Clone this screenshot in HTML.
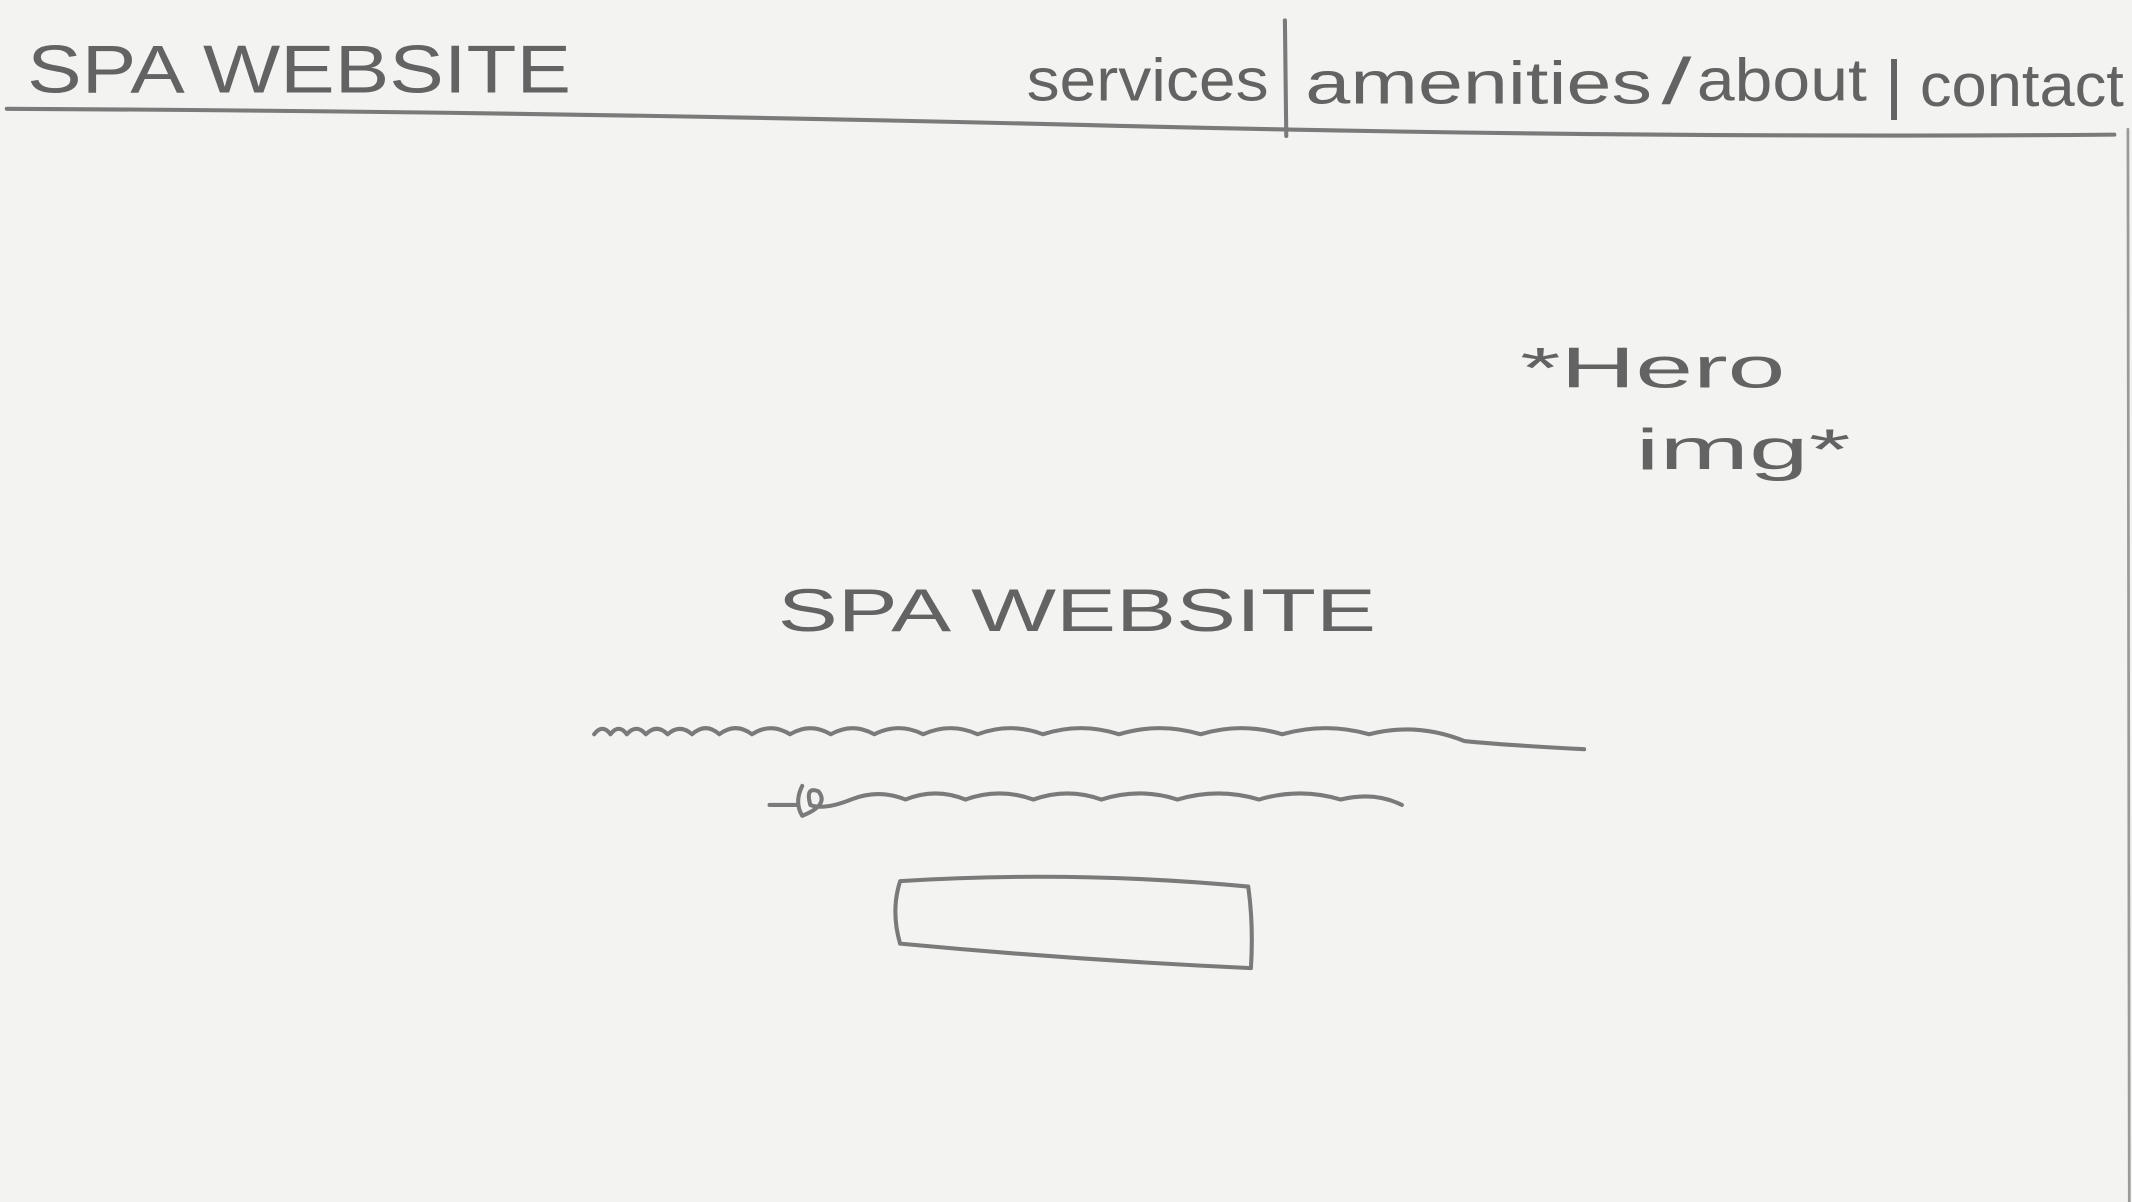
<!DOCTYPE html>
<html><head><meta charset="utf-8"><style>
html,body{margin:0;padding:0;background:#f3f3f1;}
svg{display:block;}
text{font-family:"Liberation Sans",sans-serif;fill:#636363;font-weight:normal;}
</style></head><body>
<svg width="2132" height="1202" viewBox="0 0 1568 884" preserveAspectRatio="none" xmlns="http://www.w3.org/2000/svg">
<rect x="0" y="0" width="1568" height="884" fill="#f3f3f1"/>
<g fill="none" stroke="#7a7a7a" stroke-width="3" stroke-linecap="round" stroke-linejoin="round">
<path d="M5 80 Q400 82 800 92 T1555 99"/>
<path d="M945 15 L946 100"/>
<path d="M1565 95 L1566 884" stroke="#9a9a9a" stroke-width="2"/>
<path d="M437 540 q6 -8 12 0 q6 -8 12 0 q7 -8 14 0 q8 -8 16 0 q9 -8 18 0 q10 -9 20 0 q12 -9 24 0 q14 -9 28 0 q15 -9 30 0 q16 -9 32 0 q18 -9 36 0 q20 -9 40 0 q24 -9 48 0 q28 -9 56 0 q30 -9 60 0 q30 -9 60 0 q32 -9 64 0 q35 -9 70 5 q30 3 88 6"/>
<path d="M566 592 l20 0 M590 578 q-6 12 0 22 q20 -8 12 -18 q-10 -4 -6 10 q10 4 30 -4 q20 -8 40 0 q22 -9 44 0 q25 -9 50 0 q25 -9 50 0 q28 -9 56 0 q30 -9 60 0 q30 -9 60 0 q25 -6 45 4"/>
<path d="M662 648 Q790 640 918 652 Q922 680 920 712 Q790 706 662 694 Q655 670 662 648 Z"/>
</g>
<text x="20" y="68" font-size="50" textLength="400" lengthAdjust="spacingAndGlyphs">SPA WEBSITE</text>
<text x="755" y="74" font-size="44" textLength="178" lengthAdjust="spacingAndGlyphs">services</text>
<text x="960" y="76" font-size="44" textLength="255" lengthAdjust="spacingAndGlyphs">amenities</text>
<text x="1222" y="76" font-size="48" textLength="22" lengthAdjust="spacingAndGlyphs">/</text>
<text x="1248" y="74" font-size="44" textLength="125" lengthAdjust="spacingAndGlyphs">about</text>
<text x="1386" y="78" font-size="48" textLength="14" lengthAdjust="spacingAndGlyphs">|</text>
<text x="1412" y="78" font-size="44" textLength="150" lengthAdjust="spacingAndGlyphs">contact</text>
<text x="1118" y="285" font-size="42" font-weight="normal" textLength="195" lengthAdjust="spacingAndGlyphs">*Hero</text>
<text x="1203" y="345" font-size="42" font-weight="normal" textLength="158" lengthAdjust="spacingAndGlyphs">img*</text>
<text x="572" y="464" font-size="44" textLength="440" lengthAdjust="spacingAndGlyphs">SPA WEBSITE</text>
</svg>
</body></html>
